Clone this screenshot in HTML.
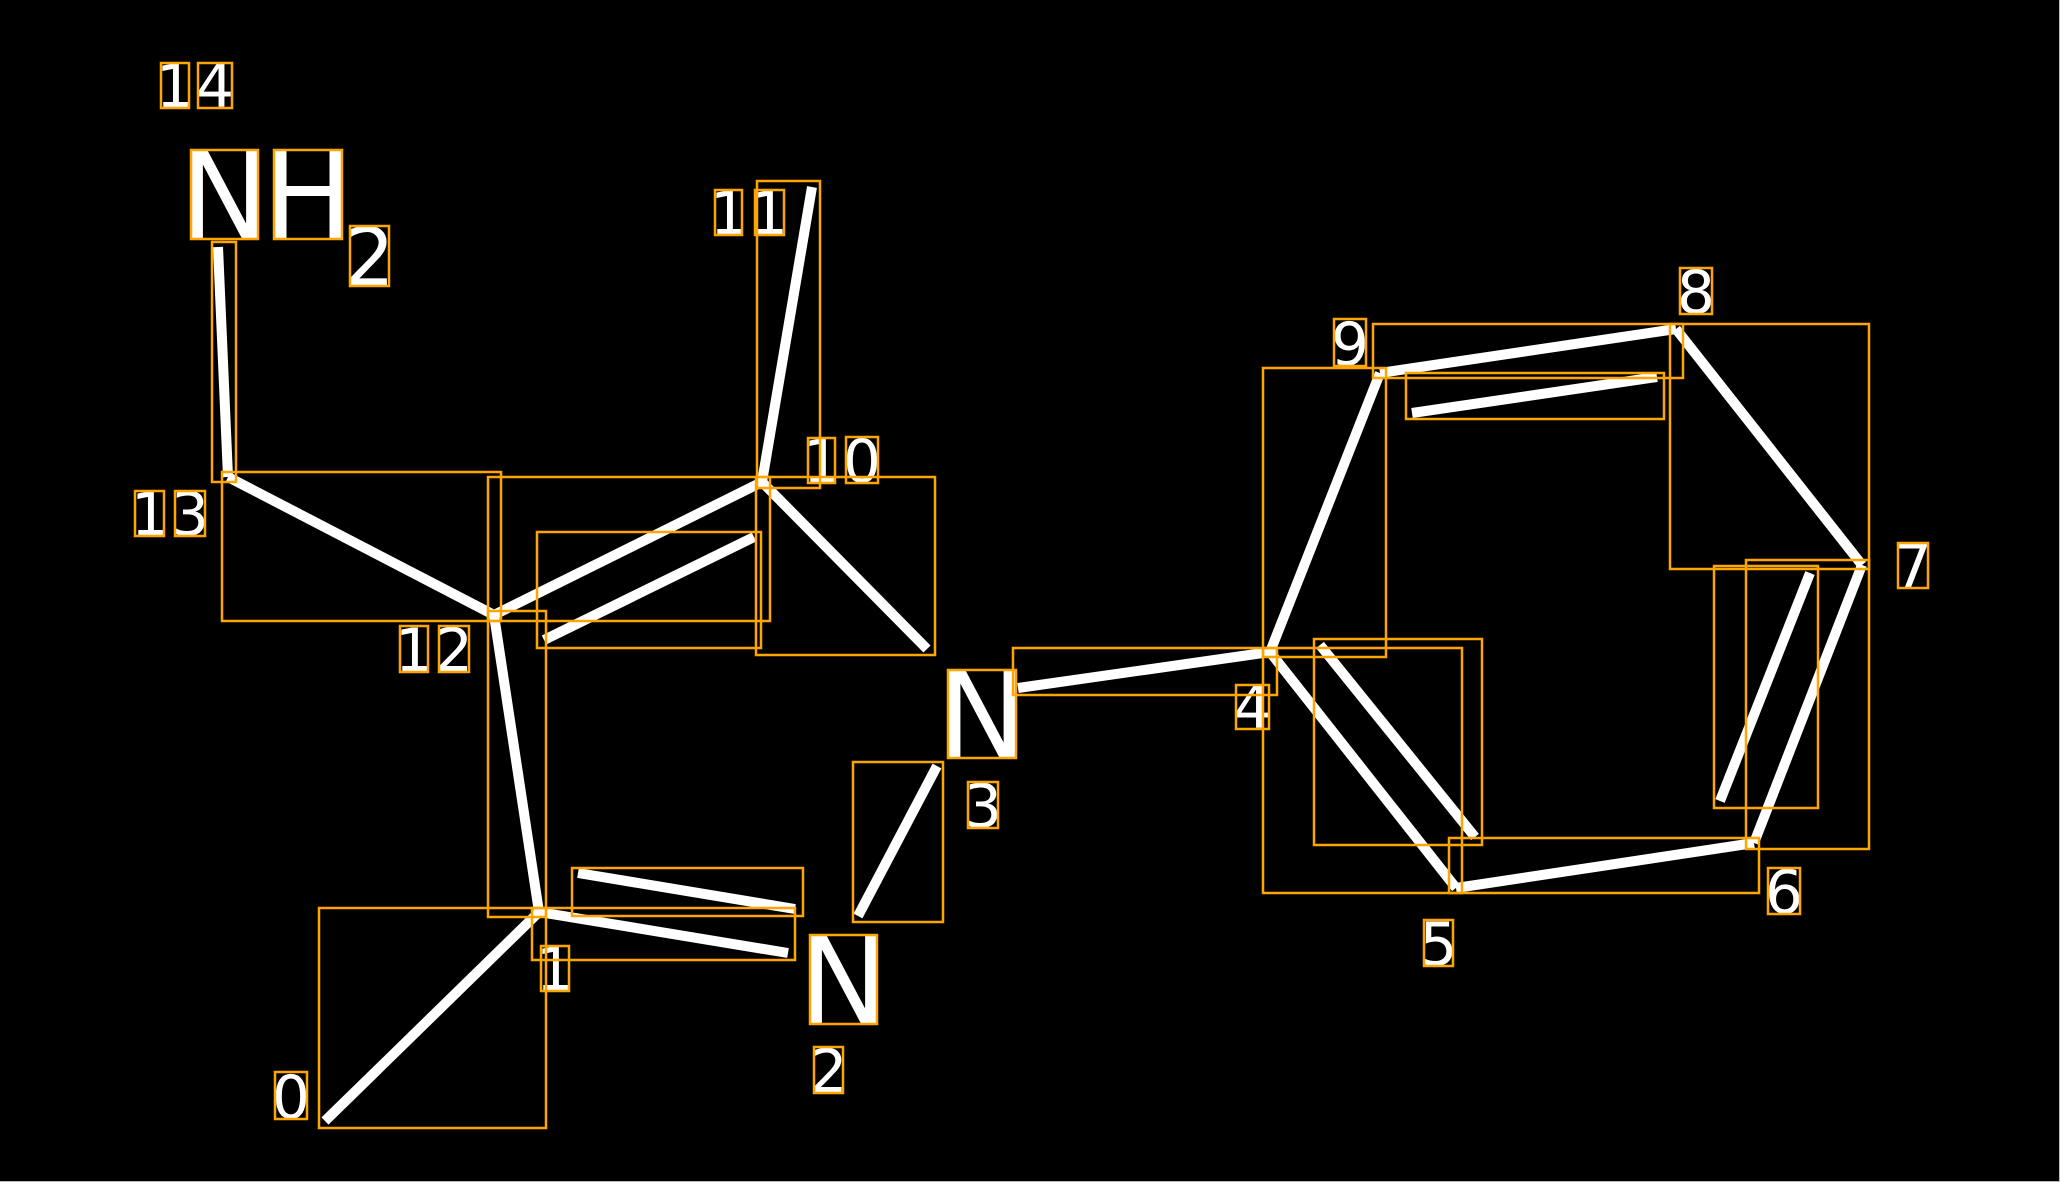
<!DOCTYPE html>
<html>
<head>
<meta charset="utf-8">
<style>
html,body{margin:0;padding:0;background:#000;width:2060px;height:1182px;overflow:hidden}
svg{display:block}
text{font-family:"DejaVu Sans",sans-serif;fill:#fff}
.s{font-size:60px;text-anchor:middle}
.m{font-size:80px;text-anchor:middle}
.l{font-size:120px;text-anchor:middle}
</style>
</head>
<body>
<svg width="2060" height="1182" viewBox="0 0 2060 1182" xmlns="http://www.w3.org/2000/svg">
<rect width="2060" height="1182" fill="#000"/>
<rect x="0" y="1181" width="2060" height="1" fill="#bbb"/>
<rect x="2059" y="0" width="1" height="1182" fill="#bbb"/>
<g stroke="#fff" stroke-width="10" fill="none">
<line x1="325" y1="1121" x2="539" y2="912"/>
<line x1="539" y1="912" x2="788" y2="953"/>
<line x1="578" y1="873" x2="795" y2="909"/>
<line x1="858" y1="916" x2="937" y2="766"/>
<line x1="1018" y1="688" x2="1270" y2="652"/>
<line x1="1270" y1="652" x2="1456" y2="888"/>
<line x1="1320" y1="645" x2="1475" y2="837"/>
<line x1="1456" y1="888" x2="1754" y2="843"/>
<line x1="1754" y1="843" x2="1862" y2="565"/>
<line x1="1720" y1="801" x2="1810" y2="573"/>
<line x1="1862" y1="565" x2="1676" y2="329"/>
<line x1="1676" y1="329" x2="1380" y2="373"/>
<line x1="1657" y1="377" x2="1412" y2="413"/>
<line x1="1380" y1="373" x2="1270" y2="652"/>
<line x1="539" y1="912" x2="494" y2="615"/>
<line x1="494" y1="615" x2="762" y2="482"/>
<line x1="544" y1="640" x2="754" y2="537"/>
<line x1="762" y1="482" x2="927" y2="649"/>
<line x1="762" y1="482" x2="812" y2="187"/>
<line x1="494" y1="615" x2="228" y2="477"/>
<line x1="228" y1="477" x2="218" y2="247"/>
</g>
<text class="l" x="224.500" y="238">N</text>
<text class="l" x="308" y="238">H</text>
<text class="m" x="369.500" y="285">2</text>
<text class="s" x="175" y="107">1</text>
<text class="s" x="215" y="107">4</text>
<text class="s" x="729" y="234">1</text>
<text class="s" x="769" y="234">1</text>
<text class="s" x="822" y="482">1</text>
<text class="s" x="862" y="482">0</text>
<text class="s" x="150" y="535">1</text>
<text class="s" x="190" y="535">3</text>
<text class="s" x="414" y="671">1</text>
<text class="s" x="454" y="671">2</text>
<text class="s" x="555" y="990">1</text>
<text class="l" x="843.500" y="1023">N</text>
<text class="s" x="828.500" y="1092">2</text>
<text class="s" x="291" y="1118">0</text>
<text class="l" x="982" y="757">N</text>
<text class="s" x="983" y="827">3</text>
<text class="s" x="1252.500" y="728">4</text>
<text class="s" x="1438.500" y="965">5</text>
<text class="s" x="1784" y="913">6</text>
<text class="s" x="1913" y="587">7</text>
<text class="s" x="1696" y="313">8</text>
<text class="s" x="1350" y="365">9</text>
<g stroke="#ffa500" stroke-width="2.500" fill="none">
<rect x="161" y="63" width="28" height="45"/>
<rect x="198" y="63" width="34" height="45"/>
<rect x="191" y="150" width="67" height="89"/>
<rect x="274" y="150" width="68" height="89"/>
<rect x="350" y="226" width="39" height="60"/>
<rect x="212" y="242" width="24" height="240"/>
<rect x="222" y="472" width="279" height="149"/>
<rect x="488" y="477" width="282" height="144"/>
<rect x="537" y="532" width="224" height="116"/>
<rect x="488" y="611" width="58" height="306"/>
<rect x="319" y="908" width="227" height="220"/>
<rect x="532" y="908" width="263" height="52"/>
<rect x="572" y="868" width="231" height="48"/>
<rect x="541" y="946" width="28" height="45"/>
<rect x="810" y="935" width="67" height="89"/>
<rect x="814" y="1047" width="29" height="46"/>
<rect x="275" y="1072" width="32" height="47"/>
<rect x="853" y="762" width="90" height="160"/>
<rect x="757" y="181" width="63" height="307"/>
<rect x="756" y="477" width="179" height="178"/>
<rect x="715" y="190" width="27" height="45"/>
<rect x="755" y="190" width="29" height="45"/>
<rect x="808" y="438" width="27" height="45"/>
<rect x="846" y="437" width="32" height="46"/>
<rect x="135" y="491" width="29" height="45"/>
<rect x="175" y="491" width="30" height="45"/>
<rect x="400" y="626" width="28" height="46"/>
<rect x="439" y="626" width="30" height="46"/>
<rect x="948" y="670" width="68" height="88"/>
<rect x="968" y="782" width="30" height="46"/>
<rect x="1013" y="648" width="264" height="47"/>
<rect x="1236" y="685" width="33" height="44"/>
<rect x="1263" y="368" width="123" height="289"/>
<rect x="1263" y="648" width="199" height="245"/>
<rect x="1314" y="639" width="168" height="206"/>
<rect x="1449" y="838" width="310" height="55"/>
<rect x="1424" y="920" width="29" height="46"/>
<rect x="1768" y="868" width="32" height="46"/>
<rect x="1746" y="560" width="123" height="289"/>
<rect x="1714" y="566" width="104" height="242"/>
<rect x="1670" y="324" width="199" height="245"/>
<rect x="1898" y="543" width="30" height="45"/>
<rect x="1680" y="268" width="32" height="46"/>
<rect x="1334" y="319" width="32" height="47"/>
<rect x="1373" y="324" width="310" height="54"/>
<rect x="1406" y="373" width="258" height="46"/>
</g>
</svg>
</body>
</html>
